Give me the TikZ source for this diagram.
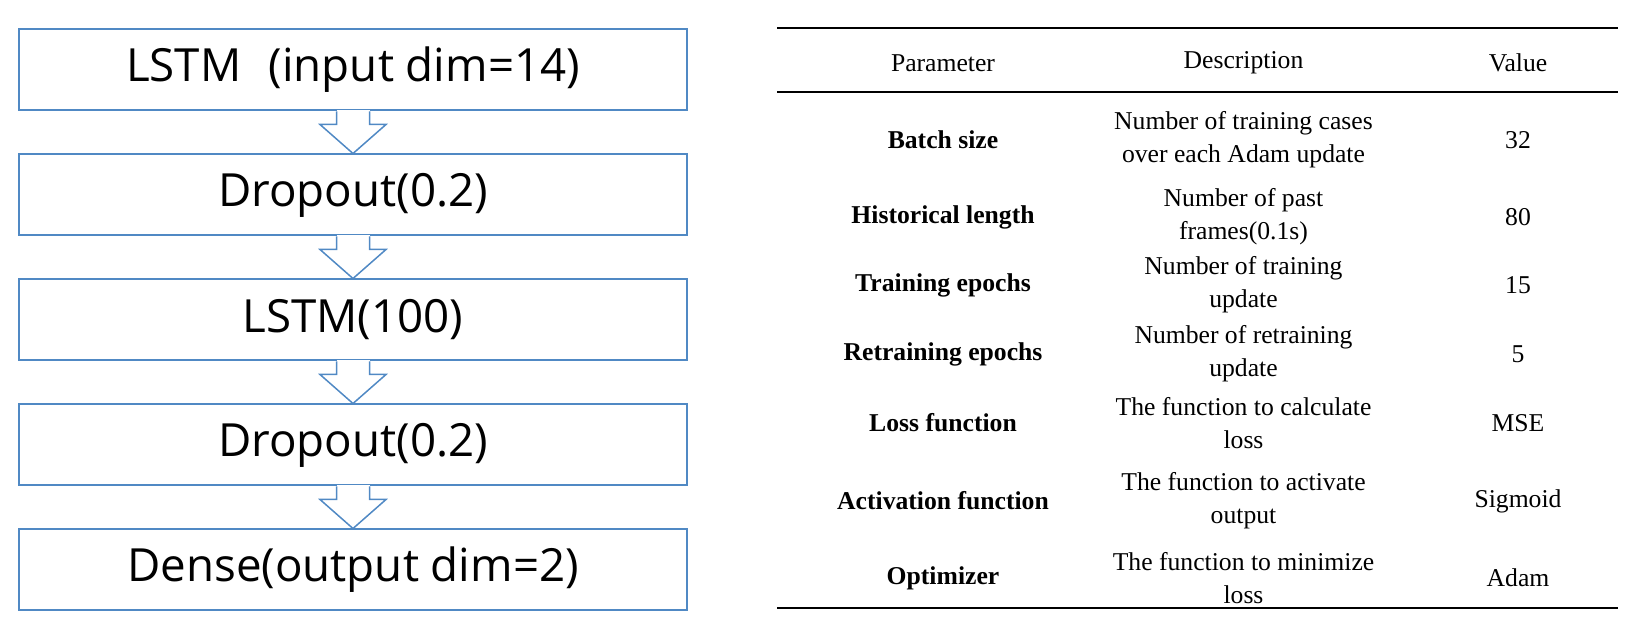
\documentclass[tikz,border=0pt]{standalone}
\usepackage{fontspec}
\newfontfamily\layerfont{Open Sans}
\newfontfamily\tablefont{Liberation Serif}
\usetikzlibrary{positioning, calc}
\definecolor{layerBlue}{RGB}{80,137,196}

\begin{document}
\begin{tikzpicture}[
    layer/.style={
        draw=layerBlue, line width=0.4mm, minimum width=133.6mm,
        minimum height=16.2mm, inner sep=0pt,
        font=\layerfont\fontsize{26}{30}\selectfont
    },
    flow/.style={draw=layerBlue, line width=0.3mm, line join=miter},
    rule/.style={line width=0.5mm},
    cell/.style={align=center, inner sep=0pt, font=\tablefont\fontsize{14.6}{18.8}\selectfont},
    param/.style={cell, font=\tablefont\bfseries\fontsize{14.6}{18.8}\selectfont}
]
    \useasboundingbox (0,0) rectangle (327.8mm,126.4mm);

    % Network layers, top to bottom.
    \node[layer] (lstmIn) at (70.6mm,112.4mm) {LSTM\hspace{0.6em}(input dim=14)\hspace{0.6em}};
    \node[layer, below=8.4mm of lstmIn] (dropA) {Dropout(0.2)};
    \node[layer, below=8.4mm of dropA] (lstmMid) {LSTM(100)};
    \node[layer, below=8.4mm of lstmMid] (dropB) {Dropout(0.2)};
    \node[layer, below=8.4mm of dropB] (dense) {Dense(output dim=2)};

    % Hollow arrows between layers.
    \foreach \a/\b in {lstmIn/dropA, dropA/lstmMid, lstmMid/dropB, dropB/dense}{
        \fill[white] ($(\a.south)+(-3.3mm,-0.1mm)$) rectangle ($(\a.south)+(3.3mm,0.3mm)$);
        \draw[flow] ($(\a.south)+(-3.3mm,0)$) -- ++(0,-2.6mm) -- ++(-3.3mm,0)
            -- (\b.north) -- ($(\a.south)+(6.6mm,-2.6mm)$) -- ++(-3.3mm,0)
            -- ($(\a.south)+(3.3mm,0)$);
    }

    % Parameter table.
    \draw[rule] (155.4mm,120.8mm) coordinate (topL) -- (323.6mm,120.8mm) coordinate (topR);
    \draw[rule] (155.4mm,108mm) coordinate (midL) -- (323.6mm,108mm) coordinate (midR);
    \draw[rule] (155.4mm,4.8mm) coordinate (botL) -- (323.6mm,4.8mm) coordinate (botR);

    \node[cell] (headParam) at (188.6mm,113.8mm) {Parameter};
    \node[cell] (headDesc) at (248.7mm,113.8mm) {Description};
    \node[cell] (headVal) at (303.6mm,113.8mm) {Value};

    \foreach \y/\p/\d/\v [count=\i] in {
        98.4/Batch size/{Number of training cases\\over each Adam update}/32,
        83/Historical length/{Number of past\\frames(0.1s)}/80,
        69.4/Training epochs/{Number of training\\update}/15,
        55.6/Retraining epochs/{Number of retraining\\update}/5,
        41.8/Loss function/{The function to calculate\\loss}/MSE,
        26.2/Activation function/{The function to activate\\output}/Sigmoid,
        10.8/Optimizer/{The function to minimize\\loss}/Adam}{
        \node[param] (param\i) at (188.6mm,\y mm) {\p};
        \node[cell] (desc\i) at (248.7mm,\y mm) {\d};
        \node[cell] (val\i) at (303.6mm,\y mm) {\v};
    }
\end{tikzpicture}
\end{document}
